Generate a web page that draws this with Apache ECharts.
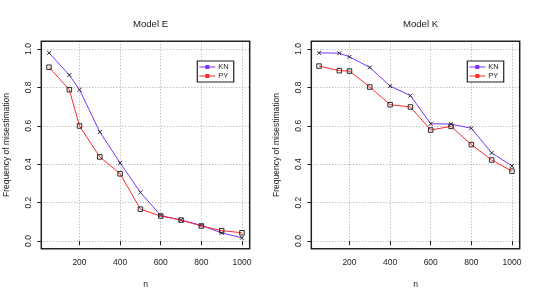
<!DOCTYPE html>
<html><head><meta charset="utf-8">
<script src="https://cdn.jsdelivr.net/npm/echarts@6/dist/echarts.min.js"></script>
<style>html,body{margin:0;padding:0;background:#fff}#c{width:541px;height:300px}</style>
</head><body><div id="c"></div>
<script>
const nValues = [50,150,200,300,400,500,600,700,800,900,1000];
const modelE_KN = [0.980,0.864,0.788,0.568,0.407,0.253,0.133,0.109,0.082,0.042,0.017];
const modelE_PY = [0.905,0.788,0.599,0.438,0.350,0.166,0.130,0.109,0.078,0.054,0.043];
const modelK_KN = [0.980,0.978,0.959,0.904,0.807,0.757,0.611,0.609,0.587,0.459,0.391];
const modelK_PY = [0.911,0.887,0.885,0.802,0.710,0.698,0.578,0.597,0.502,0.422,0.364];
const xTicks = [200,400,600,800,1000];
const yTicks = [0,0.2,0.4,0.6,0.8,1.0];
const titles = ['Model E','Model K'];

const FONT = 'Liberation Sans, Arial, sans-serif';
const KN_COLOR = '#7f33ff', PY_COLOR = '#ff2a2a', MARK = '#2a2a2a';
const xPath = 'path://M0,0L10,10M10,0L0,10';
const legIcon = 'path://M0,4.5h16v1H0z M6,3h4v4H6z';
const pairs = [[modelE_KN, modelE_PY],[modelK_KN, modelK_PY]];
const lefts = [41.3, 311.3];
const W = 208.4;

const chart = echarts.init(document.getElementById('c'), null, {renderer:'canvas'});
const grids = [], xAxes = [], yAxes = [], series = [], legends = [], titleOpts = [];
lefts.forEach((L, i) => {
  grids.push({left: L, top: 41.3, width: W, height: 207.4, show: false, containLabel: false});
  xAxes.push({type:'value', gridIndex:i, min:12, max:1038, name:'n', nameLocation:'middle', nameGap:31,
    nameTextStyle:{fontFamily:FONT, fontSize:8.5, color:'#222'},
    axisLine:{show:false},
    axisTick:{show:true, customValues:xTicks, length:4, lineStyle:{color:'#222', width:1}},
    axisLabel:{customValues:xTicks, fontFamily:FONT, fontSize:8.5, color:'#222', margin:9, formatter: v => String(v)},
    splitLine:{show:true, customValues:xTicks, lineStyle:{color:'#aaa', type:[1,2], width:1}}});
  yAxes.push({type:'value', gridIndex:i, min:-0.04, max:1.04, name:'Frequency of misestimation', nameLocation:'middle', nameGap:30,
    nameTextStyle:{fontFamily:FONT, fontSize:8.5, color:'#222'},
    axisLine:{show:false},
    axisTick:{show:true, customValues:yTicks, length:4, lineStyle:{color:'#222', width:1}},
    axisLabel:{customValues:yTicks, rotate:90, fontFamily:FONT, fontSize:8.5, color:'#222', margin:8,
      formatter: v => Number(v).toFixed(1)},
    splitLine:{show:true, customValues:yTicks, lineStyle:{color:'#aaa', type:[1,2], width:1}}});
  const [kn, py] = pairs[i];
  series.push({name:'KN', type:'line', xAxisIndex:i, yAxisIndex:i, data:nValues.map((n,j)=>[n,kn[j]]),
    symbol:xPath, symbolSize:4, showSymbol:true, animation:false,
    lineStyle:{color:KN_COLOR, width:1}, itemStyle:{color:KN_COLOR, borderColor:MARK, borderWidth:1}, z:3});
  series.push({name:'PY', type:'line', xAxisIndex:i, yAxisIndex:i, data:nValues.map((n,j)=>[n,py[j]]),
    symbol:'rect', symbolSize:4.5, showSymbol:true, animation:false,
    lineStyle:{color:PY_COLOR, width:1}, itemStyle:{color:'rgba(0,0,0,0)', borderColor:MARK, borderWidth:1}, z:4});
  legends.push({
    data:[{name:'KN', icon:legIcon, itemStyle:{color:KN_COLOR, borderWidth:0}},
          {name:'PY', icon:legIcon, itemStyle:{color:PY_COLOR, borderWidth:0}}],
    left: L + 156, top: 61, orient:'vertical', itemGap:1, itemWidth:16, itemHeight:8,
    padding:[2,5,2,2], borderColor:'#222', borderWidth:1.2, backgroundColor:'#fff',
    textStyle:{fontFamily:FONT, fontSize:7.5, color:'#222', padding:[0,0,0,-2]}, selectedMode:false});
  titleOpts.push({text:titles[i], left: L + W/2, top: 14, textAlign:'center',
    textStyle:{fontFamily:FONT, fontSize:9.6, fontWeight:'normal', color:'#222'}});
});

chart.setOption({
  animation:false,
  backgroundColor:'#fff',
  title: titleOpts,
  grid: grids, xAxis: xAxes, yAxis: yAxes, series: series, legend: legends,
  graphic: lefts.map(L => ({type:'rect', shape:{x:L, y:41.3, width:W, height:207.4}, silent:true, z:10,
    style:{fill:'none', stroke:'#222', lineWidth:1.5}}))
});
</script></body></html>
